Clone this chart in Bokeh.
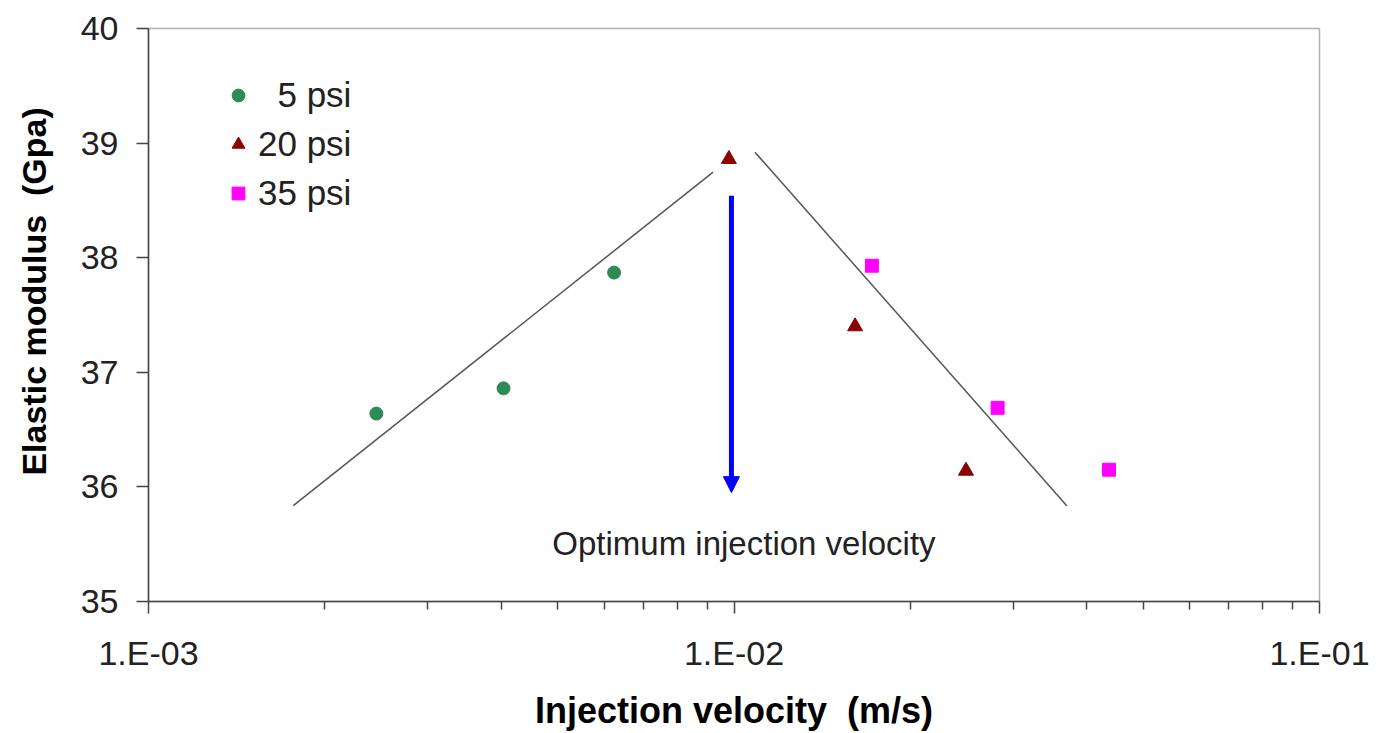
from bokeh.plotting import figure
from bokeh.models import (Legend, LegendItem, Arrow, NormalHead, Label, FixedTicker,
                          CustomJSTickFormatter, Range1d)
from bokeh.embed import file_html
from bokeh.resources import INLINE

# ---- data ----
v_5psi = [0.00245, 0.00404, 0.00624]
e_5psi = [36.64, 36.86, 37.87]
v_20psi = [0.0098, 0.0161, 0.0249]
e_20psi = [38.86, 37.40, 36.14]
v_35psi = [0.0172, 0.0282, 0.0437]
e_35psi = [37.93, 36.69, 36.15]

trend_left_v = [0.001767, 0.00921]
trend_left_e = [35.836, 38.746]
trend_right_v = [0.01086, 0.03701]
trend_right_e = [38.92, 35.836]

opt_v = 0.0099
arrow_top_e = 38.54
arrow_tip_e = 35.95
note_v = 0.0104
note_e = 35.51
note_text = "Optimum injection velocity"

x_major = [1e-3, 1e-2, 1e-1]
x_minor = [k * 10.0 ** e for e in (-3, -2) for k in range(2, 10)]
y_ticks = [35, 36, 37, 38, 39, 40]

FONT = "Liberation Sans"

p = figure(width=1376, height=733, x_axis_type="log",
           x_range=Range1d(1e-3, 1e-1), y_range=Range1d(35, 40),
           output_backend="svg", toolbar_location=None,
           min_border_left=148, min_border_top=28, min_border_right=57,
           min_border_bottom=132)
p.grid.visible = False
p.outline_line_color = "#b0b0b0"
p.outline_line_width = 1.5
p.background_fill_color = "white"
p.border_fill_color = "white"

# axes
p.xaxis.ticker = FixedTicker(ticks=x_major, minor_ticks=x_minor)
p.xaxis.formatter = CustomJSTickFormatter(code="""
const e = Math.round(Math.log10(tick));
const s = e < 0 ? "-" : "+";
return "1.E" + s + String(Math.abs(e)).padStart(2, "0");
""")
p.yaxis.ticker = FixedTicker(ticks=y_ticks, minor_ticks=[])
for ax in (p.xaxis[0], p.yaxis[0]):
    ax.axis_line_color = "#444444"
    ax.axis_line_width = 1.5
    ax.major_tick_line_color = "#444444"
    ax.major_tick_line_width = 1.5
    ax.major_tick_in = 0
    ax.major_tick_out = 12
    ax.minor_tick_line_color = "#444444"
    ax.minor_tick_line_width = 1.5
    ax.minor_tick_in = 0
    ax.minor_tick_out = 8
    ax.major_label_text_font = FONT
    ax.major_label_text_font_size = "34px"
    ax.major_label_text_color = "#222222"
    ax.axis_label_text_font = FONT
    ax.axis_label_text_font_style = "bold"
    ax.axis_label_text_font_size = "36px"
    ax.axis_label_text_color = "black"

p.xaxis.major_label_standoff = 20
p.xaxis.axis_label = "Injection velocity \u00a0(m/s)"
p.xaxis.axis_label_standoff = 15
p.yaxis.major_label_standoff = 18
p.yaxis.axis_label = "\u00a0" * 5 + "Elastic modulus \u00a0(Gpa)"
p.yaxis.axis_label_text_font_size = "34px"
p.yaxis.axis_label_standoff = 25

# trend lines
p.line(trend_left_v, trend_left_e, line_color="#555555", line_width=1.5)
p.line(trend_right_v, trend_right_e, line_color="#555555", line_width=1.5)

# data
r5 = p.scatter(v_5psi, e_5psi, marker="circle", size=13,
               fill_color="#2e8b57", line_color="#2e8b57")
r20 = p.scatter(v_20psi, e_20psi, marker="triangle", size=15,
                fill_color="#8b0000", line_color="#8b0000")
r35 = p.scatter(v_35psi, e_35psi, marker="square", size=13,
                fill_color="#ff00ff", line_color="#ff00ff")

# arrow
p.add_layout(Arrow(x_start=opt_v, y_start=arrow_top_e, x_end=opt_v, y_end=arrow_tip_e,
                   line_color="#0000ff", line_width=5,
                   end=NormalHead(size=16, fill_color="#0000ff", line_color="#0000ff")))

p.add_layout(Label(x=note_v, y=note_e, text=note_text, text_align="center",
                   text_baseline="middle", text_font=FONT, text_font_size="33px",
                   text_color="#222222"))

legend = Legend(items=[LegendItem(label="\u20075 psi", renderers=[r5]),
                       LegendItem(label="20 psi", renderers=[r20]),
                       LegendItem(label="35 psi", renderers=[r35])],
                location=(74, 388), padding=0, margin=0, spacing=9,
                glyph_width=32, glyph_height=40, label_height=40,
                label_standoff=4, label_text_font=FONT,
                label_text_font_size="35px", label_text_color="#222222",
                border_line_color=None, background_fill_alpha=0)
p.add_layout(legend)

open("out.html", "w").write(file_html(p, INLINE))
